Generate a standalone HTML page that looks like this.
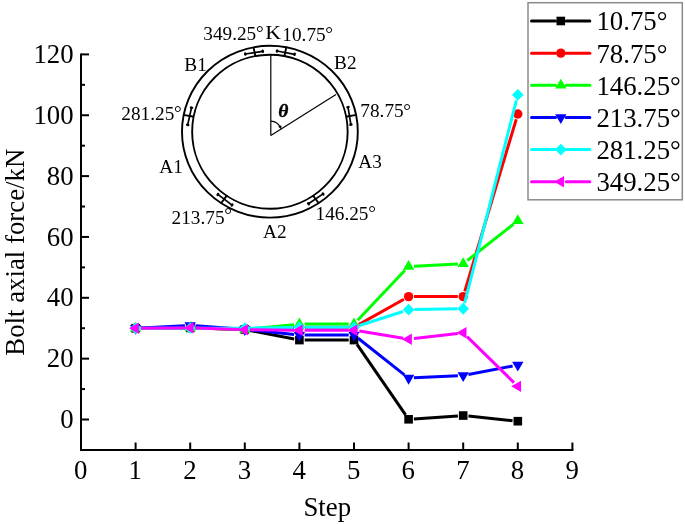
<!DOCTYPE html>
<html><head><meta charset="utf-8"><style>html,body{margin:0;padding:0;background:#fff}svg{display:block;will-change:transform}text{font-family:"Liberation Serif",serif}</style></head><body>
<svg width="685" height="524" viewBox="0 0 685 524" font-family="Liberation Serif, serif">
<rect width="685" height="524" fill="#fff"/>
<g stroke="#000" stroke-width="2" fill="none">
<path d="M81,54.40 V450 H572.40" stroke-linecap="square"/>
<line x1="81" y1="419.50" x2="89" y2="419.50"/>
<line x1="81" y1="358.65" x2="89" y2="358.65"/>
<line x1="81" y1="297.80" x2="89" y2="297.80"/>
<line x1="81" y1="236.95" x2="89" y2="236.95"/>
<line x1="81" y1="176.10" x2="89" y2="176.10"/>
<line x1="81" y1="115.25" x2="89" y2="115.25"/>
<line x1="81" y1="54.40" x2="89" y2="54.40"/>
<line x1="81" y1="389.07" x2="85.0" y2="389.07"/>
<line x1="81" y1="328.23" x2="85.0" y2="328.23"/>
<line x1="81" y1="267.38" x2="85.0" y2="267.38"/>
<line x1="81" y1="206.53" x2="85.0" y2="206.53"/>
<line x1="81" y1="145.68" x2="85.0" y2="145.68"/>
<line x1="81" y1="84.82" x2="85.0" y2="84.82"/>
<line x1="135.60" y1="450" x2="135.60" y2="442.5"/>
<line x1="190.20" y1="450" x2="190.20" y2="442.5"/>
<line x1="244.80" y1="450" x2="244.80" y2="442.5"/>
<line x1="299.40" y1="450" x2="299.40" y2="442.5"/>
<line x1="354.00" y1="450" x2="354.00" y2="442.5"/>
<line x1="408.60" y1="450" x2="408.60" y2="442.5"/>
<line x1="463.20" y1="450" x2="463.20" y2="442.5"/>
<line x1="517.80" y1="450" x2="517.80" y2="442.5"/>
<line x1="572.40" y1="450" x2="572.40" y2="442.5"/>
</g>
<g font-size="26.8" fill="#000">
<text x="73.60" y="428.10" text-anchor="end">0</text>
<text x="73.60" y="367.25" text-anchor="end">20</text>
<text x="73.60" y="306.40" text-anchor="end">40</text>
<text x="73.60" y="245.55" text-anchor="end">60</text>
<text x="73.60" y="184.70" text-anchor="end">80</text>
<text x="73.60" y="123.85" text-anchor="end">100</text>
<text x="73.60" y="63.00" text-anchor="end">120</text>
<text x="80.70" y="478.60" text-anchor="middle">0</text>
<text x="135.30" y="478.60" text-anchor="middle">1</text>
<text x="189.90" y="478.60" text-anchor="middle">2</text>
<text x="244.50" y="478.60" text-anchor="middle">3</text>
<text x="299.10" y="478.60" text-anchor="middle">4</text>
<text x="353.70" y="478.60" text-anchor="middle">5</text>
<text x="408.30" y="478.60" text-anchor="middle">6</text>
<text x="462.90" y="478.60" text-anchor="middle">7</text>
<text x="517.50" y="478.60" text-anchor="middle">8</text>
<text x="572.10" y="478.60" text-anchor="middle">9</text>
<text x="327.3" y="515.5" text-anchor="middle">Step</text>
<text transform="translate(24.3,252.2) rotate(-90)" text-anchor="middle">Bolt axial force/kN</text>
</g>
<line x1="140.90" y1="328.20" x2="184.90" y2="327.95" stroke="#000000" stroke-width="3.0"/>
<line x1="195.50" y1="328.07" x2="239.50" y2="329.29" stroke="#000000" stroke-width="3.0"/>
<line x1="250.00" y1="330.46" x2="294.20" y2="339.08" stroke="#000000" stroke-width="3.0"/>
<line x1="304.70" y1="340.09" x2="348.70" y2="340.09" stroke="#000000" stroke-width="3.0"/>
<line x1="357.01" y1="344.45" x2="405.59" y2="414.92" stroke="#000000" stroke-width="3.0"/>
<line x1="413.89" y1="418.92" x2="457.91" y2="415.91" stroke="#000000" stroke-width="3.0"/>
<line x1="468.47" y1="416.09" x2="512.53" y2="420.66" stroke="#000000" stroke-width="3.0"/>
<rect x="131.30" y="323.93" width="8.6" height="8.6" fill="#000000"/>
<rect x="185.90" y="323.62" width="8.6" height="8.6" fill="#000000"/>
<rect x="240.50" y="325.14" width="8.6" height="8.6" fill="#000000"/>
<rect x="295.10" y="335.79" width="8.6" height="8.6" fill="#000000"/>
<rect x="349.70" y="335.79" width="8.6" height="8.6" fill="#000000"/>
<rect x="404.30" y="414.99" width="8.6" height="8.6" fill="#000000"/>
<rect x="458.90" y="411.24" width="8.6" height="8.6" fill="#000000"/>
<rect x="513.50" y="416.90" width="8.6" height="8.6" fill="#000000"/>
<line x1="141.00" y1="328.19" x2="184.80" y2="327.95" stroke="#ff0000" stroke-width="3.0"/>
<line x1="195.60" y1="328.07" x2="239.40" y2="329.29" stroke="#ff0000" stroke-width="3.0"/>
<line x1="250.20" y1="329.23" x2="294.00" y2="327.52" stroke="#ff0000" stroke-width="3.0"/>
<line x1="304.80" y1="327.31" x2="348.60" y2="327.31" stroke="#ff0000" stroke-width="3.0"/>
<line x1="358.71" y1="324.66" x2="403.89" y2="299.23" stroke="#ff0000" stroke-width="3.0"/>
<line x1="414.00" y1="296.58" x2="457.80" y2="296.58" stroke="#ff0000" stroke-width="3.0"/>
<line x1="464.75" y1="291.41" x2="516.25" y2="119.21" stroke="#ff0000" stroke-width="3.0"/>
<circle cx="135.60" cy="328.23" r="4.7" fill="#ff0000"/>
<circle cx="190.20" cy="327.92" r="4.7" fill="#ff0000"/>
<circle cx="244.80" cy="329.44" r="4.7" fill="#ff0000"/>
<circle cx="299.40" cy="327.31" r="4.7" fill="#ff0000"/>
<circle cx="354.00" cy="327.31" r="4.7" fill="#ff0000"/>
<circle cx="408.60" cy="296.58" r="4.7" fill="#ff0000"/>
<circle cx="463.20" cy="296.58" r="4.7" fill="#ff0000"/>
<circle cx="517.80" cy="114.03" r="4.7" fill="#ff0000"/>
<line x1="140.90" y1="328.20" x2="184.90" y2="327.95" stroke="#00ff00" stroke-width="3.0"/>
<line x1="195.50" y1="328.07" x2="239.50" y2="329.29" stroke="#00ff00" stroke-width="3.0"/>
<line x1="250.07" y1="328.93" x2="294.13" y2="324.63" stroke="#00ff00" stroke-width="3.0"/>
<line x1="304.70" y1="324.12" x2="348.70" y2="324.12" stroke="#00ff00" stroke-width="3.0"/>
<line x1="357.64" y1="320.27" x2="404.96" y2="270.31" stroke="#00ff00" stroke-width="3.0"/>
<line x1="413.89" y1="266.20" x2="457.91" y2="263.99" stroke="#00ff00" stroke-width="3.0"/>
<line x1="467.37" y1="260.45" x2="513.63" y2="224.10" stroke="#00ff00" stroke-width="3.0"/>
<polygon points="129.90,331.52 141.30,331.52 135.60,321.64" fill="#00ff00"/>
<polygon points="184.50,331.21 195.90,331.21 190.20,321.34" fill="#00ff00"/>
<polygon points="239.10,332.73 250.50,332.73 244.80,322.86" fill="#00ff00"/>
<polygon points="293.70,327.41 305.10,327.41 299.40,317.54" fill="#00ff00"/>
<polygon points="348.30,327.41 359.70,327.41 354.00,317.54" fill="#00ff00"/>
<polygon points="402.90,269.75 414.30,269.75 408.60,259.88" fill="#00ff00"/>
<polygon points="457.50,267.01 468.90,267.01 463.20,257.14" fill="#00ff00"/>
<polygon points="512.10,224.12 523.50,224.12 517.80,214.24" fill="#00ff00"/>
<line x1="140.89" y1="327.96" x2="184.91" y2="325.75" stroke="#0000ff" stroke-width="3.0"/>
<line x1="195.49" y1="325.87" x2="239.51" y2="329.06" stroke="#0000ff" stroke-width="3.0"/>
<line x1="250.07" y1="329.97" x2="294.13" y2="334.39" stroke="#0000ff" stroke-width="3.0"/>
<line x1="304.70" y1="334.92" x2="348.70" y2="334.92" stroke="#0000ff" stroke-width="3.0"/>
<line x1="358.16" y1="338.21" x2="404.44" y2="374.83" stroke="#0000ff" stroke-width="3.0"/>
<line x1="413.89" y1="377.87" x2="457.91" y2="375.79" stroke="#0000ff" stroke-width="3.0"/>
<line x1="468.40" y1="374.54" x2="512.60" y2="366.04" stroke="#0000ff" stroke-width="3.0"/>
<polygon points="129.90,324.93 141.30,324.93 135.60,334.81" fill="#0000ff"/>
<polygon points="184.50,322.20 195.90,322.20 190.20,332.07" fill="#0000ff"/>
<polygon points="239.10,326.15 250.50,326.15 244.80,336.02" fill="#0000ff"/>
<polygon points="293.70,331.63 305.10,331.63 299.40,341.50" fill="#0000ff"/>
<polygon points="348.30,331.63 359.70,331.63 354.00,341.50" fill="#0000ff"/>
<polygon points="402.90,374.83 414.30,374.83 408.60,384.70" fill="#0000ff"/>
<polygon points="457.50,372.25 468.90,372.25 463.20,382.12" fill="#0000ff"/>
<polygon points="512.10,361.75 523.50,361.75 517.80,371.62" fill="#0000ff"/>
<line x1="141.40" y1="328.23" x2="184.40" y2="328.23" stroke="#00ffff" stroke-width="3.0"/>
<line x1="196.00" y1="328.23" x2="239.00" y2="328.23" stroke="#00ffff" stroke-width="3.0"/>
<line x1="250.60" y1="328.13" x2="293.60" y2="327.41" stroke="#00ffff" stroke-width="3.0"/>
<line x1="305.20" y1="327.31" x2="348.20" y2="327.31" stroke="#00ffff" stroke-width="3.0"/>
<line x1="359.52" y1="325.53" x2="403.08" y2="311.45" stroke="#00ffff" stroke-width="3.0"/>
<line x1="414.40" y1="309.57" x2="457.40" y2="308.85" stroke="#00ffff" stroke-width="3.0"/>
<line x1="464.63" y1="303.13" x2="516.37" y2="100.49" stroke="#00ffff" stroke-width="3.0"/>
<polygon points="135.60,322.33 141.40,328.23 135.60,334.12 129.80,328.23" fill="#00ffff"/>
<polygon points="190.20,322.33 196.00,328.23 190.20,334.12 184.40,328.23" fill="#00ffff"/>
<polygon points="244.80,322.33 250.60,328.23 244.80,334.12 239.00,328.23" fill="#00ffff"/>
<polygon points="299.40,321.41 305.20,327.31 299.40,333.21 293.60,327.31" fill="#00ffff"/>
<polygon points="354.00,321.41 359.80,327.31 354.00,333.21 348.20,327.31" fill="#00ffff"/>
<polygon points="408.60,303.77 414.40,309.67 408.60,315.57 402.80,309.67" fill="#00ffff"/>
<polygon points="463.20,302.85 469.00,308.75 463.20,314.65 457.40,308.75" fill="#00ffff"/>
<polygon points="517.80,88.97 523.60,94.87 517.80,100.77 512.00,94.87" fill="#00ffff"/>
<line x1="141.00" y1="328.19" x2="184.80" y2="327.95" stroke="#ff00ff" stroke-width="3.0"/>
<line x1="195.60" y1="328.10" x2="239.40" y2="329.57" stroke="#ff00ff" stroke-width="3.0"/>
<line x1="250.20" y1="329.79" x2="294.00" y2="330.16" stroke="#ff00ff" stroke-width="3.0"/>
<line x1="304.80" y1="330.20" x2="348.60" y2="330.20" stroke="#ff00ff" stroke-width="3.0"/>
<line x1="359.33" y1="331.08" x2="403.27" y2="338.30" stroke="#ff00ff" stroke-width="3.0"/>
<line x1="413.96" y1="338.55" x2="457.84" y2="333.42" stroke="#ff00ff" stroke-width="3.0"/>
<line x1="467.06" y1="336.57" x2="513.94" y2="382.56" stroke="#ff00ff" stroke-width="3.0"/>
<polygon points="129.02,328.23 138.89,322.53 138.89,333.93" fill="#ff00ff"/>
<polygon points="183.62,327.92 193.49,322.22 193.49,333.62" fill="#ff00ff"/>
<polygon points="238.22,329.75 248.09,324.05 248.09,335.45" fill="#ff00ff"/>
<polygon points="292.82,330.20 302.69,324.50 302.69,335.90" fill="#ff00ff"/>
<polygon points="347.42,330.20 357.29,324.50 357.29,335.90" fill="#ff00ff"/>
<polygon points="402.02,339.18 411.89,333.48 411.89,344.88" fill="#ff00ff"/>
<polygon points="456.62,332.79 466.49,327.09 466.49,338.49" fill="#ff00ff"/>
<polygon points="511.22,386.34 521.09,380.64 521.09,392.04" fill="#ff00ff"/>
<rect x="528" y="2.7" width="154.3" height="197.1" fill="#fff" stroke="#8a8a8a" stroke-width="1.5"/>
<line x1="531.5" y1="21.00" x2="555.50" y2="21.00" stroke="#000000" stroke-width="3.0" stroke-linecap="round"/>
<line x1="566.10" y1="21.00" x2="589.8" y2="21.00" stroke="#000000" stroke-width="3.0" stroke-linecap="round"/>
<rect x="556.50" y="16.70" width="8.6" height="8.6" fill="#000000"/>
<text x="596.4" y="30.40" font-size="26.8">10.75°</text>
<line x1="531.5" y1="53.15" x2="555.40" y2="53.15" stroke="#ff0000" stroke-width="3.0" stroke-linecap="round"/>
<line x1="566.20" y1="53.15" x2="589.8" y2="53.15" stroke="#ff0000" stroke-width="3.0" stroke-linecap="round"/>
<circle cx="560.80" cy="53.15" r="4.7" fill="#ff0000"/>
<text x="596.4" y="62.55" font-size="26.8">78.75°</text>
<line x1="531.5" y1="85.30" x2="555.50" y2="85.30" stroke="#00ff00" stroke-width="3.0" stroke-linecap="round"/>
<line x1="566.10" y1="85.30" x2="589.8" y2="85.30" stroke="#00ff00" stroke-width="3.0" stroke-linecap="round"/>
<polygon points="555.10,88.59 566.50,88.59 560.80,78.72" fill="#00ff00"/>
<text x="596.4" y="94.70" font-size="26.8">146.25°</text>
<line x1="531.5" y1="117.45" x2="555.50" y2="117.45" stroke="#0000ff" stroke-width="3.0" stroke-linecap="round"/>
<line x1="566.10" y1="117.45" x2="589.8" y2="117.45" stroke="#0000ff" stroke-width="3.0" stroke-linecap="round"/>
<polygon points="555.10,114.16 566.50,114.16 560.80,124.03" fill="#0000ff"/>
<text x="596.4" y="126.85" font-size="26.8">213.75°</text>
<line x1="531.5" y1="149.60" x2="555.00" y2="149.60" stroke="#00ffff" stroke-width="3.0" stroke-linecap="round"/>
<line x1="566.60" y1="149.60" x2="589.8" y2="149.60" stroke="#00ffff" stroke-width="3.0" stroke-linecap="round"/>
<polygon points="560.80,143.70 566.60,149.60 560.80,155.50 555.00,149.60" fill="#00ffff"/>
<text x="596.4" y="159.00" font-size="26.8">281.25°</text>
<line x1="531.5" y1="181.75" x2="555.40" y2="181.75" stroke="#ff00ff" stroke-width="3.0" stroke-linecap="round"/>
<line x1="566.20" y1="181.75" x2="589.8" y2="181.75" stroke="#ff00ff" stroke-width="3.0" stroke-linecap="round"/>
<polygon points="554.22,181.75 564.09,176.05 564.09,187.45" fill="#ff00ff"/>
<text x="596.4" y="191.15" font-size="26.8">349.25°</text>
<g fill="none" stroke="#000">
<ellipse cx="269.9" cy="131.7" rx="87.9" ry="85.9" stroke-width="1.9"/>
<ellipse cx="269.9" cy="131.7" rx="77.75" ry="77.0" stroke-width="1.9"/>
<line x1="270.8" y1="135.6" x2="270.8" y2="54.6" stroke-width="1.2"/>
<line x1="270.8" y1="135.6" x2="336" y2="94.6" stroke-width="1.2"/>
<path d="M270.9,121.2 C274.6,121.3 278.2,123.2 280.2,127.2" stroke-width="1.2"/>
</g>
<polygon points="281.4,129.6 278.3,126.5 281.3,125.2" fill="#000"/>
<line x1="255.48" y1="56.44" x2="253.43" y2="46.91" stroke="#000" stroke-width="1.9"/>
<line x1="245.30" y1="54.00" x2="262.80" y2="51.30" stroke="#000" stroke-width="1.7"/>
<ellipse cx="245.30" cy="54.00" rx="1.3" ry="1.8" transform="rotate(349.25 245.30 54.00)" fill="#000"/>
<ellipse cx="262.80" cy="51.30" rx="1.3" ry="1.8" transform="rotate(349.25 262.80 51.30)" fill="#000"/>
<line x1="284.32" y1="56.44" x2="286.37" y2="46.91" stroke="#000" stroke-width="1.9"/>
<line x1="277.00" y1="51.00" x2="294.60" y2="54.30" stroke="#000" stroke-width="1.7"/>
<ellipse cx="277.00" cy="51.00" rx="1.3" ry="1.8" transform="rotate(10.75 277.00 51.00)" fill="#000"/>
<ellipse cx="294.60" cy="54.30" rx="1.3" ry="1.8" transform="rotate(10.75 294.60 54.30)" fill="#000"/>
<line x1="345.71" y1="116.76" x2="356.50" y2="114.86" stroke="#000" stroke-width="1.9"/>
<line x1="348.00" y1="107.20" x2="350.90" y2="124.60" stroke="#000" stroke-width="1.7"/>
<ellipse cx="348.00" cy="107.20" rx="1.3" ry="1.8" transform="rotate(78.75 348.00 107.20)" fill="#000"/>
<ellipse cx="350.90" cy="124.60" rx="1.3" ry="1.8" transform="rotate(78.75 350.90 124.60)" fill="#000"/>
<line x1="312.85" y1="195.39" x2="318.96" y2="203.46" stroke="#000" stroke-width="1.9"/>
<line x1="308.50" y1="203.80" x2="323.10" y2="193.90" stroke="#000" stroke-width="1.7"/>
<ellipse cx="308.50" cy="203.80" rx="1.3" ry="1.8" transform="rotate(146.25 308.50 203.80)" fill="#000"/>
<ellipse cx="323.10" cy="193.90" rx="1.3" ry="1.8" transform="rotate(146.25 323.10 193.90)" fill="#000"/>
<line x1="226.95" y1="195.39" x2="220.84" y2="203.46" stroke="#000" stroke-width="1.9"/>
<line x1="217.90" y1="194.40" x2="232.10" y2="205.10" stroke="#000" stroke-width="1.7"/>
<ellipse cx="217.90" cy="194.40" rx="1.3" ry="1.8" transform="rotate(213.75 217.90 194.40)" fill="#000"/>
<ellipse cx="232.10" cy="205.10" rx="1.3" ry="1.8" transform="rotate(213.75 232.10 205.10)" fill="#000"/>
<line x1="194.09" y1="116.76" x2="183.30" y2="114.86" stroke="#000" stroke-width="1.9"/>
<line x1="191.50" y1="107.70" x2="187.70" y2="124.90" stroke="#000" stroke-width="1.7"/>
<ellipse cx="191.50" cy="107.70" rx="1.3" ry="1.8" transform="rotate(281.25 191.50 107.70)" fill="#000"/>
<ellipse cx="187.70" cy="124.90" rx="1.3" ry="1.8" transform="rotate(281.25 187.70 124.90)" fill="#000"/>
<g font-size="18.7" fill="#000">
<text id="L0" transform="translate(203.30 40.00) scale(1.03 1)">349.25<tspan dy="-1.33" dx="-0.3">°</tspan></text>
<text id="L1" transform="translate(265.21 38.60) scale(1.15 1)" font-size="19.0">K</text>
<text id="L2" transform="translate(282.37 40.60) scale(1.03 1)">10.75<tspan dy="-1.06" dx="-0.3">°</tspan></text>
<text id="L3" transform="translate(184.34 70.80) scale(1.03 1)">B1</text>
<text id="L4" transform="translate(334.12 69.00) scale(1.03 1)">B2</text>
<text id="L5" transform="translate(121.37 119.70) scale(1.03 1)">281.25<tspan dy="-0.53" dx="-0.3">°</tspan></text>
<text id="L6" transform="translate(360.34 117.27) scale(1.03 1)">78.75<tspan dy="-0.46" dx="-0.3">°</tspan></text>
<text id="L7" transform="translate(159.24 173.10) scale(1.03 1)">A1</text>
<text id="L8" transform="translate(358.34 167.50) scale(1.03 1)">A3</text>
<text id="L9" transform="translate(171.58 223.60) scale(1.03 1)">213.75<tspan dy="-2.16" dx="-0.3">°</tspan></text>
<text id="L10" transform="translate(315.52 220.10) scale(1.03 1)">146.25<tspan dy="-1.56" dx="-0.3">°</tspan></text>
<text id="L11" transform="translate(263.05 238.20) scale(1.03 1)">A2</text>
</g>
<text x="278.3" y="117" font-size="19.5" font-weight="bold" font-style="italic" stroke="#000" stroke-width="0.35">θ</text>
</svg>
</body></html>
